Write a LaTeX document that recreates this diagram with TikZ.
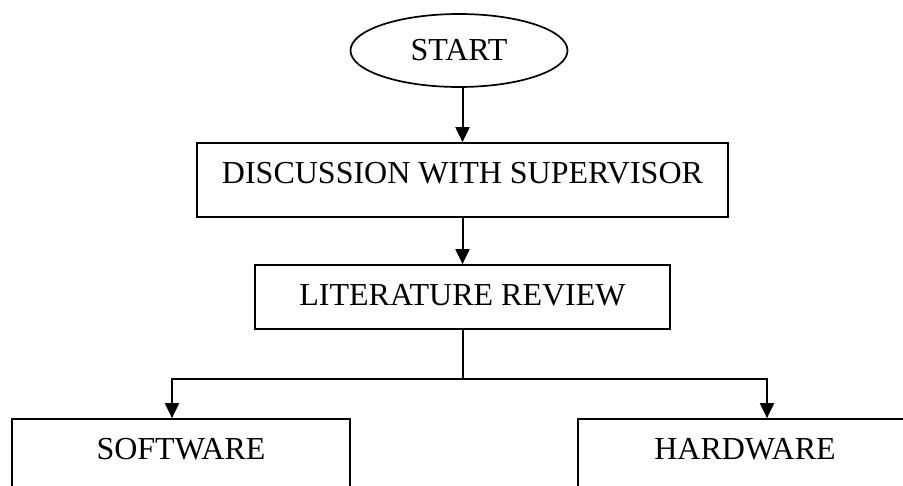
\documentclass[tikz,border=0pt]{standalone}
\usepackage{fontspec}
\setmainfont{Liberation Serif}
\usetikzlibrary{arrows.meta,shapes.geometric}
\begin{document}
\begin{tikzpicture}[x=1pt,y=1pt,
  every node/.style={font=\fontsize{32}{37}\selectfont, inner sep=0pt},
  stepbox/.style={draw, line width=1.7pt, rectangle},
  startshape/.style={draw, line width=1.7pt, ellipse, minimum width=217pt, minimum height=73pt, text height=21pt, text depth=0pt},
  arr/.style={line width=2pt, -{Triangle[length=15pt,width=14pt]}},
  conn/.style={line width=2pt}]
\path[use as bounding box, clip] (0,0) rectangle (903,-486);
\node[startshape] (start) at (459,-50.5) {START};
\node[stepbox, minimum width=531pt, minimum height=74pt, text height=21pt, text depth=14pt] (disc) at (462.5,-180) {DISCUSSION WITH SUPERVISOR};
\node[stepbox, minimum width=415pt, minimum height=64pt, text height=21pt, text depth=3pt] (lit) at (462.5,-297) {LITERATURE REVIEW};
\node[stepbox, minimum width=338pt, minimum height=71pt, text height=21pt, text depth=10pt] (sw) at (181,-454.5) {SOFTWARE};
\node[stepbox, minimum width=334pt, minimum height=71pt, text height=21pt, text depth=10pt] (hw) at (745,-454.5) {HARDWARE};
\coordinate (split) at (462.5,-379);
\draw[arr] (start.south -| disc.north) -- (disc.north);
\draw[arr] (disc.south) -- (lit.north);
\draw[conn] (lit.south) -- (split);
\draw[arr] (split) -| ([xshift=-9pt]sw.north);
\draw[arr] (split) -| ([xshift=22pt]hw.north);
\end{tikzpicture}
\end{document}
